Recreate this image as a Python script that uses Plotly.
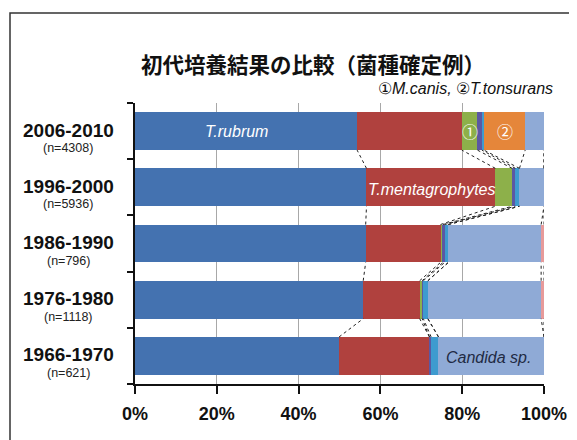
import plotly.graph_objects as go

# ---- data (percent of confirmed cases) ----
periods = ["1966-1970", "1976-1980", "1986-1990", "1996-2000", "2006-2010"]
counts = ["(n=621)", "(n=1118)", "(n=796)", "(n=5936)", "(n=4308)"]
t_rubrum = [49.9, 55.8, 56.4, 56.6, 54.3]
t_mentagrophytes = [22.1, 13.8, 18.3, 31.5, 25.6]
m_canis = [0.0, 0.6, 0.6, 4.1, 3.8]
e_floccosum = [0.4, 0.3, 0.4, 0.8, 1.1]
other_derm = [1.8, 1.1, 0.9, 1.0, 0.5]
t_tonsurans = [0.0, 0.0, 0.0, 0.0, 10.1]
candida = [25.8, 27.7, 22.7, 6.0, 4.6]
others = [0.0, 0.7, 0.7, 0.0, 0.0]
x_ticks = [0, 20, 40, 60, 80, 100]
x_tick_labels = ["0%", "20%", "40%", "60%", "80%", "100%"]

series = [
    ("T.rubrum", t_rubrum, "#4472B0"),
    ("T.mentagrophytes", t_mentagrophytes, "#B0413E"),
    ("M.canis", m_canis, "#8DB04A"),
    ("E.floccosum", e_floccosum, "#5B58A3"),
    ("その他の白癬菌", other_derm, "#3E9BCF"),
    ("T.tonsurans", t_tonsurans, "#E5863A"),
    ("Candida sp.", candida, "#8FAAD6"),
    ("その他", others, "#E79A9A"),
]

ypos = list(range(len(periods)))
bar_w = 0.675

fig = go.Figure()
for name, vals, col in series:
    fig.add_trace(go.Bar(
        y=ypos, x=vals, name=name, orientation="h",
        marker=dict(color=col, line=dict(width=0)),
        width=bar_w, showlegend=False,
    ))

# series (connector) lines between adjacent bars
cum = []
for i in range(len(periods)):
    s, row = 0.0, []
    for _, vals, _ in series:
        s += vals[i]
        row.append(s)
    cum.append(row)
lx, ly = [], []
for i in range(len(periods) - 1):
    for k in range(len(series)):
        lx += [cum[i][k], cum[i + 1][k], None]
        ly += [i + bar_w / 2, i + 1 - bar_w / 2, None]
fig.add_trace(go.Scatter(x=lx, y=ly, mode="lines",
                         line=dict(color="#222222", width=1, dash="dot"),
                         showlegend=False, hoverinfo="skip"))

LAT = "Liberation Sans, Arial, sans-serif"
annotations = []
# period labels
for i, (p, n) in enumerate(zip(periods, counts)):
    annotations.append(dict(x=-0.1638, xref="paper", y=i, yref="y", text=p,
                            showarrow=False, xanchor="center", yanchor="middle",
                            yshift=1,
                            font=dict(family=LAT, size=19, color="#111111", weight="bold")))
    annotations.append(dict(x=-0.1638, xref="paper", y=i, yref="y", text=n,
                            showarrow=False, xanchor="center", yanchor="middle",
                            yshift=-17,
                            font=dict(family=LAT, size=12.5, color="#222222")))

# in-bar labels
annotations += [
    dict(x=24.8, y=4, text="<i>T.rubrum</i>", showarrow=False,
         font=dict(family=LAT, size=16, color="white")),
    dict(x=72.6, y=3, text="<i>T.mentagrophytes</i>", showarrow=False, yshift=-2,
         font=dict(family=LAT, size=16, color="white")),
    dict(x=86.4, y=0, text="<i>Candida sp.</i>", showarrow=False, yshift=-2,
         font=dict(family=LAT, size=16, color="#1F2A44")),
    dict(x=cum[4][1] + m_canis[4] / 2, y=4, text="①", showarrow=False,
         font=dict(family="Noto Sans CJK JP", size=16, color="white")),
    dict(x=cum[4][4] + t_tonsurans[4] / 2, y=4, text="②", showarrow=False,
         font=dict(family="Noto Sans CJK JP", size=16, color="white")),
    # subtitle
    dict(x=1.027, xref="paper", y=1.053, yref="paper", showarrow=False,
         xanchor="right", yanchor="middle",
         text="①<i>M.canis,</i> ②<i>T.tonsurans</i>",
         font=dict(family=LAT, size=16, color="#111111")),
]

fig.update_layout(
    width=577, height=440,
    margin=dict(l=127, r=41, t=95, b=64),
    paper_bgcolor="white", plot_bgcolor="white",
    barmode="stack", bargap=0,
    title=dict(text="<b>初代培養結果の比較（菌種確定例）</b>",
               x=305 / 577, xanchor="center", y=1 - 57 / 440, yanchor="middle",
               xref="container", yref="container",
               font=dict(family="Noto Sans CJK JP", size=21.5, color="#111111")),
    xaxis=dict(range=[0, 100], tickvals=x_ticks, ticktext=x_tick_labels,
               showgrid=True, gridcolor="#A8A8A8", gridwidth=1,
               showline=True, linecolor="#111111", linewidth=2,
               ticks="outside", ticklen=8, tickwidth=2, tickcolor="#111111",
               ticklabelstandoff=4,
               zeroline=False,
               tickfont=dict(family=LAT, size=18, color="#111111", weight="bold"),
               fixedrange=True),
    yaxis=dict(range=[-0.5, 4.5], tickvals=[-0.5, 0.5, 1.5, 2.5, 3.5, 4.5],
               ticktext=["", "", "", "", "", ""],
               showgrid=False, zeroline=False,
               showline=True, linecolor="#111111", linewidth=2,
               ticks="outside", ticklen=6, tickwidth=2, tickcolor="#111111",
               fixedrange=True),
    annotations=annotations,
    shapes=[dict(type="rect", xref="paper", yref="paper",
                 x0=(2 - 127) / 409, x1=1.3, y0=-0.4, y1=(376 - 5) / 281,
                 line=dict(color="#333333", width=1.5), fillcolor="rgba(0,0,0,0)",
                 layer="below")],
)

fig.write_html("out.html")
